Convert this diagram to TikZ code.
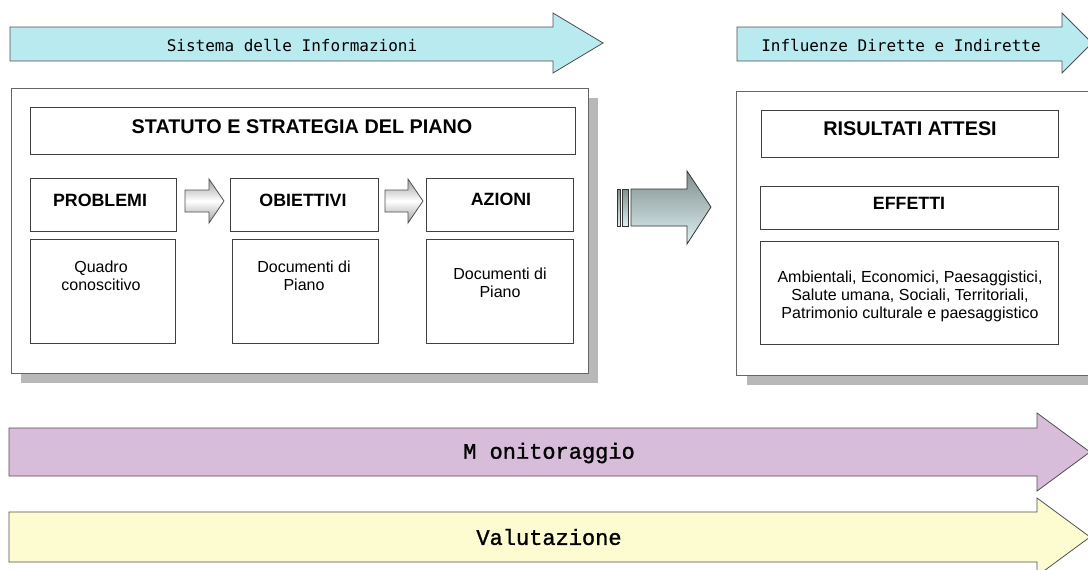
\documentclass[tikz,border=0pt]{standalone}
\usepackage{fontspec}
\setmainfont{Liberation Sans}
\newfontfamily\consmono{DejaVu Sans Mono}
\newfontfamily\courmono[FakeBold=1.3]{Liberation Mono}
\definecolor{cyanarrow}{RGB}{185,234,240}
\definecolor{lilac}{RGB}{216,189,218}
\definecolor{paleyellow}{RGB}{252,252,208}
\definecolor{edgegray}{RGB}{80,80,80}
\definecolor{shadowgray}{RGB}{184,184,184}
\definecolor{bigdark}{RGB}{130,142,142}
\definecolor{biglight}{RGB}{220,240,242}
\tikzset{
  blockarrow/.style={draw=edgegray, line width=0.8pt, line join=miter},
  outerbox/.style={draw=gray!80!black, fill=white, line width=0.8pt, anchor=north west, inner sep=0pt},
  innerbox/.style={draw=black!75, fill=white, line width=0.8pt, anchor=north west, inner sep=0pt},
  shadowbox/.style={fill=shadowgray, draw=none},
  headtxt/.style={font=\fontsize{19.8}{23}\selectfont\bfseries, inner sep=0pt, anchor=base},
  subtxt/.style={font=\fontsize{17.8}{21}\selectfont\bfseries, inner sep=0pt, anchor=base},
  bodytxt/.style={font=\fontsize{16}{18}\selectfont, align=center, inner sep=0pt},
  toptxt/.style={font=\consmono\fontsize{16}{19}\selectfont, inner sep=0pt},
  bottxt/.style={font=\courmono\fontsize{22}{26}\selectfont, inner sep=0pt},
  smallarrow/.style={draw=edgegray, line width=0.8pt, top color=gray!75, bottom color=gray!75, middle color=white},
  bigarrow/.style={draw=black!80, line width=0.8pt, top color=bigdark, bottom color=biglight}
}
\begin{document}
\begin{tikzpicture}[x=1pt,y=-1pt]
\useasboundingbox (0,0) rectangle (1088,570);
\fill[white] (0,0) rectangle (1088,570);

% top arrows
\draw[blockarrow, fill=cyanarrow] (10,27) -- (553,27) -- (553,13) -- (603,43) -- (553,73) -- (553,61) -- (10,61) -- cycle;
\node[toptxt] (sist) at (292,45) {Sistema delle Informazioni};
\draw[blockarrow, fill=cyanarrow] (737,27) -- (1062,27) -- (1062,13) -- (1092,43) -- (1062,73) -- (1062,61) -- (737,61) -- cycle;
\node[toptxt] (infl) at (901,45) {Influenze Dirette e Indirette};

% left panel
\fill[shadowbox] (21,98) rectangle (598,383);
\node[outerbox, minimum width=577pt, minimum height=285pt] (leftpanel) at (11,88) {};
\node[innerbox, minimum width=545pt, minimum height=47pt] (statbox) at (30,107) {};
\node[headtxt] (stattxt) at (302,133) {STATUTO E STRATEGIA DEL PIANO};

\node[innerbox, minimum width=146pt, minimum height=53pt] (probbox) at (30,178) {};
\node[subtxt] (probtxt) at (100,206) {PROBLEMI};
\node[innerbox, minimum width=145pt, minimum height=104pt] (quadbox) at (30,239) {};
\node[bodytxt] (quadtxt) at (101,276) {Quadro\\conoscitivo};

\node[innerbox, minimum width=148pt, minimum height=53pt] (obbox) at (230,178) {};
\node[subtxt] (obtxt) at (303,206) {OBIETTIVI};
\node[innerbox, minimum width=146pt, minimum height=104pt] (docbox1) at (232,239) {};
\node[bodytxt] (doctxt1) at (304,276) {Documenti di\\Piano};

\node[innerbox, minimum width=147pt, minimum height=53pt] (azbox) at (426,178) {};
\node[subtxt] (aztxt) at (501,205) {AZIONI};
\node[innerbox, minimum width=147pt, minimum height=104pt] (docbox2) at (426,239) {};
\node[bodytxt] (doctxt2) at (500,283) {Documenti di\\Piano};

% small arrows between boxes
\draw[smallarrow] (185,190) -- (209,190) -- (209,179) -- (224,201) -- (209,223) -- (209,212) -- (185,212) -- cycle;
\draw[smallarrow] (385,190) -- (408,190) -- (408,179) -- (423,201) -- (408,223) -- (408,212) -- (385,212) -- cycle;

% big arrow
\draw[bigarrow] (617,189) rectangle (620,226);
\draw[bigarrow] (622,189) rectangle (628,226);
\draw[bigarrow] (631,189) -- (687,189) -- (687,171) -- (711,207) -- (687,244) -- (687,226) -- (631,226) -- cycle;

% right panel
\fill[shadowbox] (747,101) rectangle (1100,385);
\node[outerbox, minimum width=360pt, minimum height=284pt] (rightpanel) at (736,91) {};
\node[innerbox, minimum width=297pt, minimum height=47pt] (risbox) at (761,110) {};
\node[headtxt] (ristxt) at (910,135) {RISULTATI ATTESI};
\node[innerbox, minimum width=298pt, minimum height=43pt] (effbox) at (760,186) {};
\node[subtxt] (efftxt) at (909,209) {EFFETTI};
\node[innerbox, minimum width=298pt, minimum height=103pt] (effdet) at (760,241) {};
\node[bodytxt] (effdettxt) at (910,296) {Ambientali, Economici, Paesaggistici,\\Salute umana, Sociali, Territoriali,\\Patrimonio culturale e paesaggistico};

% bottom arrows
\draw[blockarrow, fill=lilac] (9,428) -- (1037,428) -- (1037,413) -- (1090,452) -- (1037,491) -- (1037,476) -- (9,476) -- cycle;
\node[bottxt] (mon) at (549,453) {M onitoraggio};
\draw[blockarrow, fill=paleyellow] (9,512) -- (1037,512) -- (1037,498) -- (1090,537) -- (1037,576) -- (1037,562) -- (9,562) -- cycle;
\node[bottxt] (val) at (549,537) {Valutazione};
\end{tikzpicture}
\end{document}
